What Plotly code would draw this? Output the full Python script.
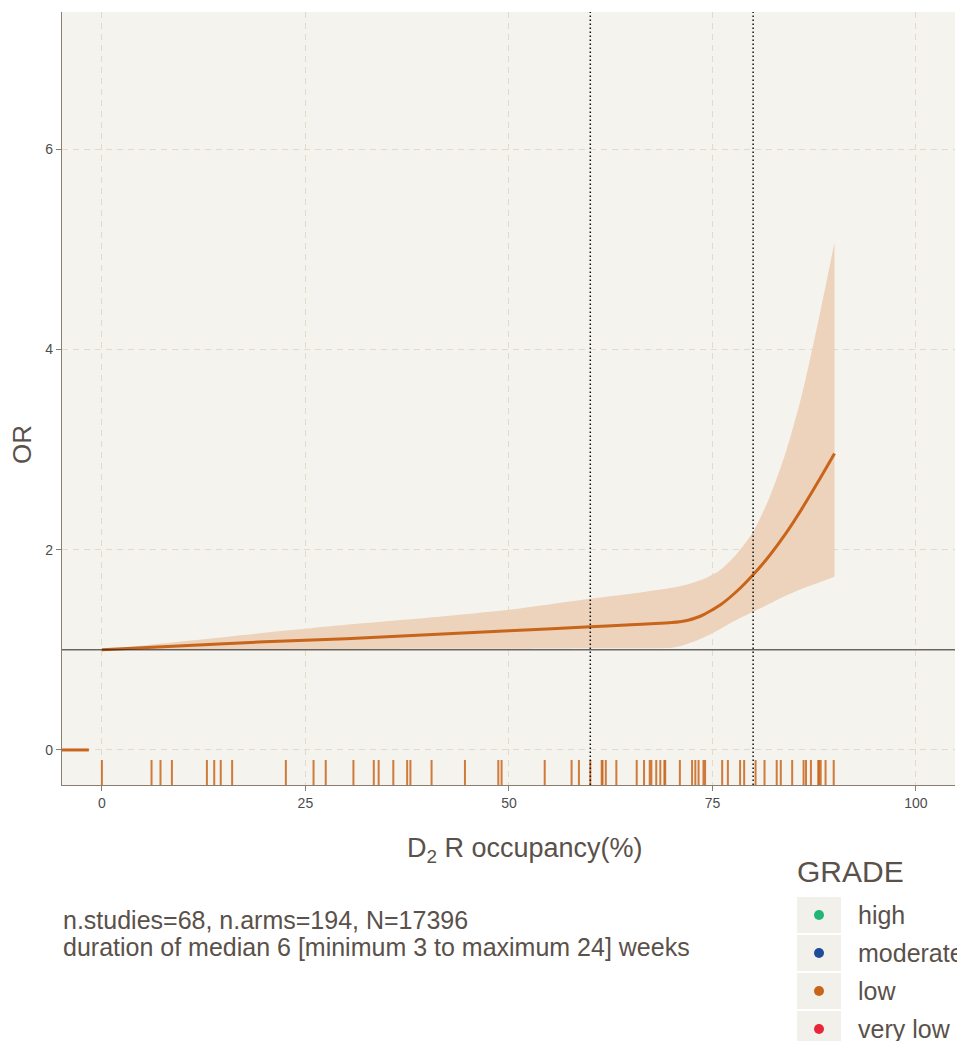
import plotly.graph_objects as go

# ---- data ----
occ_x = [0, 10, 20, 30, 40, 50, 60, 65, 68, 70, 71, 72, 73, 74, 75, 76, 78, 80, 82, 84, 86, 88, 90]
or_est = [1.00, 1.04, 1.08, 1.11, 1.15, 1.19, 1.23, 1.25, 1.262, 1.272, 1.28, 1.295, 1.32, 1.355,
          1.40, 1.45, 1.585, 1.75, 1.94, 2.16, 2.41, 2.68, 2.96]
or_upper = [1.00, 1.085, 1.17, 1.25, 1.32, 1.40, 1.51, 1.56, 1.595, 1.62, 1.635, 1.655, 1.68, 1.71,
            1.75, 1.80, 1.96, 2.18, 2.52, 2.97, 3.55, 4.28, 5.07]
or_lower = [1.00, 1.00, 1.00, 1.005, 1.01, 1.01, 1.015, 1.015, 1.015, 1.02, 1.035, 1.06, 1.09, 1.125,
            1.165, 1.21, 1.30, 1.38, 1.46, 1.54, 1.61, 1.67, 1.73]

rug_x = [0, 6.1, 7.2, 8.6, 12.9, 13.8, 14.6, 16.0, 22.6, 26.0, 27.5, 30.9, 33.4, 34.0, 35.8,
         37.5, 37.9, 40.5, 44.6, 48.7, 49.1, 54.4, 57.7, 58.6, 60.0, 61.4, 61.5, 61.9, 63.2,
         65.7, 66.6, 67.3, 67.5, 68.1, 68.6, 69.1, 69.2, 71.0, 72.5, 72.9, 73.3, 73.9, 74.1,
         76.2, 76.9, 78.4, 78.9, 80.3, 81.4, 82.9, 83.4, 84.8, 86.2, 86.5, 87.1, 88.0, 88.1,
         88.3, 88.9, 89.9]

ref_lines_x = [60, 80]
x_ticks = [0, 25, 50, 75, 100]
y_ticks = [0, 2, 4, 6]
grade_labels = ["high", "moderate", "low", "very low"]
grade_colors = ["#22B573", "#1F4B99", "#C8651B", "#E8263A"]

ORANGE = "#C8651B"
FONT = "Liberation Sans, Arial, sans-serif"
TXT = "#5A514A"

# the page body adds an 8px margin; work in figure pixels
OFF = 8
W, H = 965 - OFF, 1041 - OFF
L, R, T, B = 62 - OFF, 955 - OFF, 12 - OFF, 785 - OFF


def px2paper(px, py):
    # px, py given in reference-image pixels
    px -= OFF
    py -= OFF
    return (px - L) / (R - L), (B - py) / (B - T)


fig = go.Figure()

# confidence band
fig.add_trace(go.Scatter(
    x=occ_x, y=or_lower, mode="lines",
    line=dict(width=0, color="#EDD3BB", shape="spline", smoothing=0.8),
    hoverinfo="skip", showlegend=False))
fig.add_trace(go.Scatter(
    x=occ_x, y=or_upper, mode="lines", fill="tonexty", fillcolor="#EDD3BB",
    line=dict(width=0, color="#EDD3BB", shape="spline", smoothing=0.8),
    hoverinfo="skip", showlegend=False))

# estimate curve
fig.add_trace(go.Scatter(
    x=occ_x, y=or_est, mode="lines",
    line=dict(color=ORANGE, width=3, shape="spline", smoothing=0.8),
    showlegend=False))

# rug
rx, ry = [], []
for v in rug_x:
    rx += [v, v, None]
    ry += [-0.4, -0.1, None]
fig.add_trace(go.Scatter(x=rx, y=ry, mode="lines",
                         line=dict(color="rgba(200,101,27,0.85)", width=2),
                         showlegend=False, hoverinfo="skip"))

# small segment at y=0 on the left
fig.add_trace(go.Scatter(x=[-5, -1.6], y=[0, 0], mode="lines",
                         line=dict(color=ORANGE, width=3), showlegend=False))

shapes = []
# reference line OR=1
shapes.append(dict(type="line", xref="paper", x0=0, x1=1, yref="y", y0=1, y1=1,
                   line=dict(color="#222222", width=1), layer="above"))
for v in ref_lines_x:
    shapes.append(dict(type="line", xref="x", x0=v, x1=v, yref="paper", y0=0, y1=1,
                       line=dict(color="#111111", width=1.5, dash="1.5px,2.5px"), layer="above"))

annotations = []
# axis titles
ax, ay = px2paper(22, 445)
annotations.append(dict(text="OR", x=ax, y=ay, xref="paper", yref="paper", showarrow=False,
                        textangle=-90, font=dict(family=FONT, size=26, color=TXT),
                        xanchor="center", yanchor="middle"))
ax, ay = px2paper(525, 850)
annotations.append(dict(text="D<sub>2</sub> R occupancy(%)", x=ax, y=ay, xref="paper", yref="paper",
                        showarrow=False, font=dict(family=FONT, size=27, color=TXT),
                        xanchor="center", yanchor="middle"))
# notes
for i, line in enumerate(["n.studies=68, n.arms=194, N=17396",
                          "duration of median 6 [minimum 3 to maximum 24] weeks"]):
    ax, ay = px2paper(61, 920 + 27 * i)
    annotations.append(dict(text=line, x=ax, y=ay, xref="paper", yref="paper", showarrow=False,
                            font=dict(family=FONT, size=25, color=TXT),
                            xanchor="left", yanchor="middle"))

# legend (drawn manually)
ax, ay = px2paper(795, 871)
annotations.append(dict(text="GRADE", x=ax, y=ay, xref="paper", yref="paper", showarrow=False,
                        font=dict(family=FONT, size=30, color=TXT), xanchor="left", yanchor="middle"))
for i, (lab, col) in enumerate(zip(grade_labels, grade_colors)):
    top = 897 + 38 * i
    x0, y1 = px2paper(797, top)
    x1, y0 = px2paper(841, top + 36)
    shapes.append(dict(type="rect", xref="paper", yref="paper", x0=x0, x1=x1, y0=y0, y1=y1,
                       fillcolor="#F2F0EB", line=dict(width=0), layer="above"))
    cx, cy = px2paper(819, top + 18)
    shapes.append(dict(type="circle", xref="paper", yref="paper", xsizemode="pixel",
                       ysizemode="pixel", xanchor=cx, yanchor=cy, x0=-5, x1=5, y0=-5, y1=5,
                       fillcolor=col, line=dict(width=0), layer="above"))
    tx, ty = px2paper(856, top + 18)
    annotations.append(dict(text=lab, x=tx, y=ty, xref="paper", yref="paper", showarrow=False,
                            font=dict(family=FONT, size=25, color=TXT),
                            xanchor="left", yanchor="middle"))

fig.update_layout(
    width=W, height=H,
    margin=dict(l=L, r=W - R, t=T, b=H - B, pad=0),
    paper_bgcolor="white", plot_bgcolor="#F5F3EE",
    shapes=shapes, annotations=annotations, showlegend=False,
    font=dict(family=FONT),
    xaxis=dict(range=[-4.9, 104.8], tickvals=x_ticks, ticktext=[str(v) for v in x_ticks],
               showgrid=True, gridcolor="#E0DBCA", griddash="6px,5px", gridwidth=1.2,
               zeroline=False, showline=True, linecolor="#8A7E70", linewidth=1.2,
               ticks="outside", ticklen=5, tickcolor="#8A7E70",
               tickfont=dict(size=14, color="#4D4D4D", family=FONT)),
    yaxis=dict(range=[-0.35, 7.37], tickvals=y_ticks, ticktext=[str(v) for v in y_ticks],
               showgrid=True, gridcolor="#E0DBCA", griddash="6px,5px", gridwidth=1.2,
               zeroline=False, showline=True, linecolor="#8A7E70", linewidth=1.2,
               ticks="outside", ticklen=5, tickcolor="#8A7E70",
               tickfont=dict(size=14, color="#4D4D4D", family=FONT)),
)

fig.write_html("out.html")
